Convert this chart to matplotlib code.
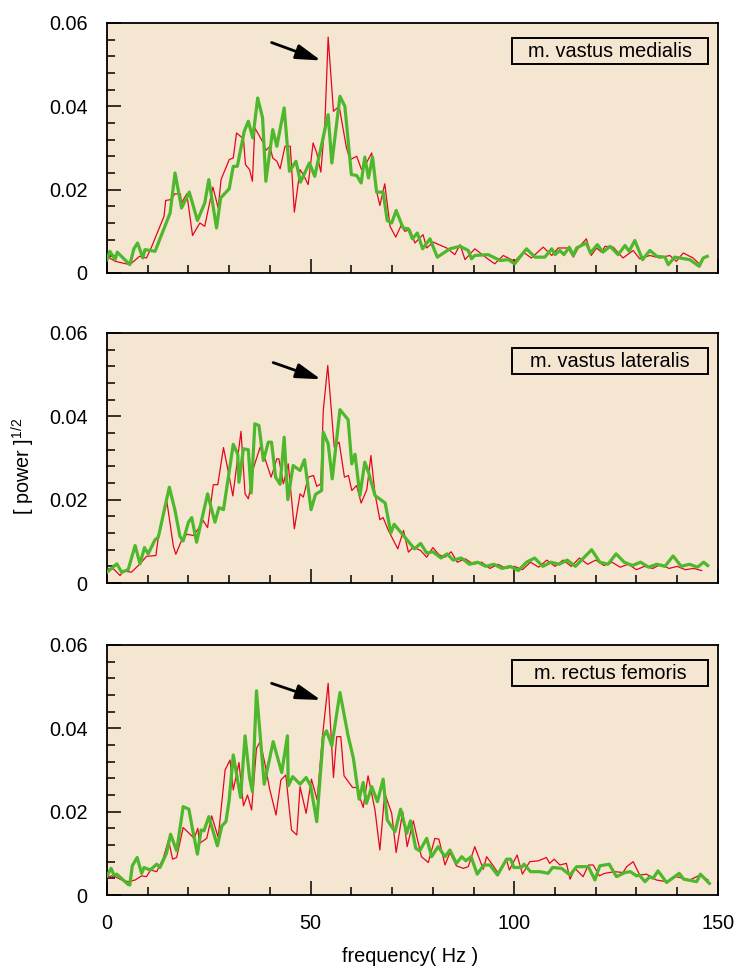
import matplotlib
matplotlib.use('Agg')
import matplotlib.pyplot as plt
from matplotlib.patches import Rectangle
from matplotlib.ticker import MultipleLocator

plt.rcParams['font.family'] = ['Liberation Sans', 'DejaVu Sans']
plt.rcParams['mathtext.default'] = 'regular'

# ---- panel 1: m. vastus medialis ----
vm_red_f = [0, 2, 5.6, 8, 9.7, 11, 14, 14.4, 15.6, 16.7, 18, 18.3, 19.6, 21, 22.8, 24, 26, 27.3, 28, 30,
            31, 31.8, 33.5, 34, 35, 35.7, 36.3, 38.4, 39, 40, 40.7, 41.7, 42.5, 43.7, 45, 46, 47.4, 48.2, 49.4, 50.6,
            51.5, 52.5, 53.5, 54.3, 55.6, 57, 58.8, 59.7, 61.3, 62.5, 63.7, 65, 66.2, 67, 68.2, 69.5, 70.9, 72.3, 73.1, 74.4,
            75.6, 77.6, 78.5, 80.1, 83.4, 85.4, 86.7, 87.9, 90.3, 93.2, 95.2, 97.3, 100.1, 102.2, 104.2, 107.1, 109.2, 110.8, 113.2, 114.5,
            115.7, 117.7, 118.9, 120.2, 121.4, 122.3, 124.3, 126.7, 129.2, 130.8, 133.3, 135.7, 138.2, 139.8, 141.5, 143.9, 145.2]
vm_red_v = [0.004, 0.0028, 0.002, 0.004, 0.0036, 0.0064, 0.0136, 0.0174, 0.0176, 0.019, 0.019, 0.0168, 0.019, 0.009, 0.012, 0.0112, 0.0206, 0.0156, 0.0224, 0.0272,
            0.0276, 0.0336, 0.0322, 0.026, 0.0248, 0.022, 0.0348, 0.0312, 0.0294, 0.0304, 0.0276, 0.0268, 0.025, 0.0304, 0.0304, 0.0146, 0.0248, 0.0236, 0.0212, 0.0312,
            0.0288, 0.0242, 0.036, 0.0566, 0.0388, 0.04, 0.030, 0.0272, 0.028, 0.0248, 0.0264, 0.0288, 0.0196, 0.0162, 0.0214, 0.0112, 0.0086, 0.0116, 0.010, 0.0104,
            0.0072, 0.0092, 0.006, 0.0074, 0.006, 0.0044, 0.0068, 0.0032, 0.0058, 0.0036, 0.0022, 0.0042, 0.0028, 0.005, 0.0036, 0.0062, 0.0042, 0.006, 0.006, 0.0038,
            0.006, 0.0082, 0.0042, 0.006, 0.005, 0.0064, 0.0062, 0.0036, 0.0054, 0.0034, 0.0042, 0.0036, 0.0042, 0.0028, 0.0048, 0.0036, 0.0024]
vm_green_f = [0, 0.7, 2, 2.5, 5.6, 6.6, 7.5, 8.8, 9.3, 11.8, 15.5, 16.7, 18.3, 20.2, 22.2, 24, 25, 26.9, 27.9, 30,
              31, 32, 33.7, 34.7, 35.8, 37, 38.2, 39, 40.7, 41.7, 43.5, 44.8, 46.4, 47.5, 49.7, 51, 54.3, 55.2, 57.2, 58.4,
              60, 61.3, 62.4, 63.3, 64.2, 65.2, 66.2, 67.8, 68.8, 69.9, 71, 72.7, 74, 75, 76.2, 77.5, 79.3, 81.1, 84.2, 86.7,
              88.7, 89.5, 90.3, 93.6, 96.5, 98.5, 100.1, 103, 105.1, 107.5, 109.2, 110, 111.2, 112.2, 113.5, 114.5, 115.3, 117.7, 118.7, 120.4,
              121.8, 123.5, 125.5, 127.2, 128.2, 129.6, 131.5, 133.3, 135, 137, 137.8, 139.4, 143.1, 145.4, 146.4, 147.4]
vm_green_v = [0.0032, 0.0052, 0.0032, 0.005, 0.002, 0.0058, 0.0072, 0.0036, 0.0056, 0.0052, 0.0144, 0.024, 0.0156, 0.0194, 0.0126, 0.0168, 0.0224, 0.0108, 0.018, 0.0202,
              0.0256, 0.0256, 0.034, 0.0364, 0.0324, 0.042, 0.0372, 0.022, 0.0344, 0.0304, 0.0396, 0.0244, 0.0268, 0.0218, 0.0264, 0.0232, 0.038, 0.0264, 0.0424, 0.040,
              0.0236, 0.0234, 0.0216, 0.0278, 0.0228, 0.0278, 0.0194, 0.0194, 0.0126, 0.012, 0.015, 0.0108, 0.0106, 0.0082, 0.0096, 0.0058, 0.0082, 0.0038, 0.0058, 0.0064,
              0.0054, 0.0034, 0.0042, 0.0044, 0.003, 0.0032, 0.0022, 0.0058, 0.0038, 0.0038, 0.0058, 0.0044, 0.0054, 0.0044, 0.0062, 0.0042, 0.006, 0.0072, 0.0048, 0.0068,
              0.005, 0.0064, 0.0044, 0.0066, 0.0052, 0.0078, 0.0032, 0.0054, 0.004, 0.0038, 0.002, 0.0038, 0.0032, 0.0016, 0.0036, 0.004]

# ---- panel 2: m. vastus lateralis ----
vl_red_f = [0, 1.6, 3.2, 4, 6, 8.1, 9.7, 12, 12.6, 14.6, 16.3, 16.9, 18.3, 19.6, 21.2, 22.4, 23.6, 24.7, 26.1, 27.2,
            28.6, 29.8, 30.9, 32.9, 33.9, 34.7, 35.1, 35.9, 37.6, 38.8, 40.3, 41.7, 42.2, 43.3, 44.5, 46, 47.4, 48.2, 49.4, 50.7,
            51.5, 52.5, 53.1, 54.2, 55.8, 57, 58.3, 59.3, 60.1, 61.3, 62.4, 63.8, 64.8, 65.8, 67, 67.8, 69.1, 71.4, 72.8, 74,
            75.2, 77, 78.5, 80, 81.5, 83, 84.5, 86, 88, 90, 92, 94, 96, 98, 100, 102, 104, 106, 108, 110,
            112, 114, 116, 118, 120, 122, 124, 126, 128, 130, 132, 134, 136, 138, 140, 142, 144, 146]
vl_red_v = [0.0034, 0.0034, 0.0018, 0.0029, 0.0026, 0.0046, 0.0064, 0.0066, 0.011, 0.0202, 0.0088, 0.0069, 0.0102, 0.0117, 0.0114, 0.013, 0.015, 0.0133, 0.0236, 0.0236,
            0.0325, 0.0266, 0.0209, 0.0364, 0.0214, 0.0202, 0.0222, 0.0274, 0.0326, 0.0298, 0.0254, 0.0298, 0.0298, 0.0238, 0.0286, 0.013, 0.0214, 0.0206, 0.0254, 0.0258,
            0.0232, 0.0238, 0.0414, 0.0522, 0.0326, 0.0338, 0.0254, 0.0258, 0.0222, 0.0234, 0.0192, 0.0224, 0.0306, 0.0214, 0.0152, 0.0157, 0.0126, 0.0082, 0.0126, 0.0074,
            0.0086, 0.0078, 0.0062, 0.0085, 0.0068, 0.0062, 0.0075, 0.005, 0.0058, 0.0045, 0.005, 0.0035, 0.0045, 0.0035, 0.004, 0.0032, 0.005, 0.0038, 0.0055, 0.004,
            0.0055, 0.004, 0.006, 0.0045, 0.0055, 0.0042, 0.005, 0.0038, 0.0045, 0.0032, 0.004, 0.0035, 0.0045, 0.0035, 0.004, 0.0032, 0.0035, 0.003]
vl_green_f = [0, 2.4, 3.6, 5.2, 6.9, 8.1, 9.2, 10.1, 11.8, 12.6, 15.3, 16.7, 17.9, 18.7, 20, 20.8, 22, 24.7, 26.5, 27.5,
              28.6, 31, 32.1, 32.4, 33.5, 34.7, 35.4, 36.3, 37.3, 38.4, 39.6, 40.4, 41.4, 42.5, 43.5, 44.4, 45.7, 47.4, 48.5, 50.1,
              51.2, 52.7, 53.1, 54.3, 55.3, 57.2, 59.2, 60.1, 60.9, 62.1, 63.3, 64.2, 65.8, 68.3, 69.7, 70.5, 75.5, 77, 78.5, 80,
              82, 83.5, 85, 87, 89, 91, 93, 95, 97, 99, 101, 103, 105, 107, 109, 111, 113, 115, 117, 119,
              121, 123, 125, 127, 129, 131, 133, 135, 137, 139, 141, 143, 145, 146.5, 147.5]
vl_green_v = [0.0026, 0.0046, 0.0026, 0.0032, 0.009, 0.0046, 0.0085, 0.007, 0.0104, 0.011, 0.023, 0.0174, 0.0112, 0.0101, 0.0146, 0.0157, 0.0098, 0.0214, 0.0146, 0.0181,
              0.0176, 0.0333, 0.0309, 0.0242, 0.0322, 0.032, 0.0216, 0.0382, 0.0378, 0.0294, 0.0338, 0.0338, 0.0254, 0.0237, 0.035, 0.02, 0.0282, 0.027, 0.0296, 0.0176,
              0.0213, 0.0222, 0.0362, 0.0334, 0.025, 0.0416, 0.0392, 0.0286, 0.0309, 0.021, 0.029, 0.0266, 0.021, 0.0192, 0.012, 0.0141, 0.0082, 0.0095, 0.0072, 0.0075,
              0.006, 0.007, 0.0055, 0.006, 0.0045, 0.005, 0.004, 0.0045, 0.0035, 0.004, 0.003, 0.005, 0.006, 0.004, 0.005, 0.0045, 0.0055, 0.004, 0.006, 0.008,
              0.005, 0.0045, 0.007, 0.005, 0.0042, 0.005, 0.0038, 0.0045, 0.004, 0.0065, 0.004, 0.0045, 0.0038, 0.005, 0.0042]

# ---- panel 3: m. rectus femoris ----
rf_red_f = [0, 1, 2, 3.6, 5.2, 6.9, 8.5, 9.7, 10.7, 12.2, 13.8, 15.1, 16.1, 17.1, 18.7, 20.8, 21.4, 22.3, 22.7, 24.5,
            25.7, 27.3, 29, 30.2, 31, 32.4, 33.5, 34.5, 35.5, 36.7, 37.6, 38.8, 39.9, 41.5, 42.7, 43.9, 45.3, 46.6, 47.4, 48.9,
            50.2, 51.6, 52.9, 54.3, 55.6, 56.4, 57.4, 58.2, 60.3, 61.3, 62.9, 64.1, 65.8, 67, 68.2, 69.9, 71, 72.6, 73.7, 75.2,
            77.2, 78.9, 80.5, 81.5, 83, 84.2, 85.8, 87.5, 88.7, 90.3, 92.4, 93.2, 94.4, 96.1, 98.1, 98.8, 100.7, 102, 103.8, 105.9,
            107.9, 108.7, 109.8, 111.2, 112.8, 113.7, 114.9, 116.9, 118.2, 119.4, 120.9, 122.2, 124.7, 126.7, 127.6, 129.2, 130.8, 132.5, 134.9, 137.4,
            139.8, 143.1, 145.6, 147.6]
rf_red_v = [0.0042, 0.0046, 0.0044, 0.0036, 0.0032, 0.0036, 0.0046, 0.0044, 0.006, 0.0056, 0.0088, 0.0132, 0.0086, 0.009, 0.0162, 0.0142, 0.0136, 0.016, 0.0124, 0.0136,
            0.019, 0.0138, 0.03, 0.0324, 0.0252, 0.0318, 0.0214, 0.024, 0.0204, 0.0352, 0.0368, 0.0314, 0.0256, 0.0192, 0.0276, 0.0288, 0.0156, 0.0144, 0.026, 0.0196,
            0.0278, 0.0228, 0.038, 0.0508, 0.0282, 0.038, 0.038, 0.0286, 0.0258, 0.0258, 0.021, 0.0286, 0.0204, 0.0108, 0.0244, 0.0196, 0.0102, 0.02, 0.0116, 0.0178,
            0.0092, 0.0078, 0.0136, 0.0134, 0.0072, 0.0102, 0.007, 0.0064, 0.0068, 0.0116, 0.0062, 0.0092, 0.0076, 0.0052, 0.0084, 0.006, 0.0096, 0.005, 0.008, 0.0082,
            0.009, 0.0076, 0.0086, 0.0072, 0.0076, 0.0038, 0.0064, 0.0044, 0.0072, 0.0072, 0.0046, 0.0052, 0.0056, 0.0054, 0.0068, 0.008, 0.0048, 0.005, 0.0036, 0.0032,
            0.0044, 0.0036, 0.0048, 0.0036]
rf_green_f = [0, 1, 1.7, 2.4, 5.1, 5.6, 6.2, 7.4, 8.5, 9.1, 10.6, 12.2, 13, 14.6, 15.6, 17.1, 18.7, 20.1, 21, 22.2,
              23.1, 23.8, 25, 27.1, 28.2, 29.2, 30, 31, 32.8, 33.9, 35, 35.7, 36.7, 38.6, 40.8, 42.9, 44.3, 44.5, 45.6, 47.4,
              48.9, 50, 51.5, 53.1, 53.9, 55.2, 57.2, 59.2, 60.5, 61.9, 62.9, 63.7, 65, 66.4, 67.8, 68.8, 70.7, 72.1, 73.6, 74.5,
              75.8, 76.8, 78.5, 79.7, 81.3, 83, 84.2, 85.8, 87.1, 88.1, 89.4, 90.9, 92.5, 94, 95.9, 98.1, 99.1, 99.9, 101.8, 102.4,
              104, 106.3, 108.3, 109.4, 111.6, 113.7, 115.3, 118.2, 119.8, 121, 123.3, 125.1, 127.2, 128.5, 130, 130.7, 132.1, 133.3, 134.1, 135.3,
              137.4, 140.5, 141.6, 144.8, 145.7, 147.9]
rf_green_v = [0.0046, 0.0064, 0.0048, 0.005, 0.0026, 0.0024, 0.007, 0.009, 0.0052, 0.0066, 0.006, 0.0074, 0.0066, 0.01, 0.0146, 0.0106, 0.0212, 0.0206, 0.0158, 0.0098,
              0.0156, 0.0154, 0.0188, 0.0118, 0.0166, 0.0176, 0.0228, 0.0336, 0.0234, 0.0382, 0.0282, 0.0248, 0.049, 0.0266, 0.0368, 0.0294, 0.0382, 0.0262, 0.0284, 0.0266,
              0.0282, 0.0262, 0.0176, 0.038, 0.0394, 0.0358, 0.0486, 0.0382, 0.0328, 0.023, 0.027, 0.022, 0.026, 0.0224, 0.0278, 0.018, 0.0152, 0.0206, 0.0148, 0.0178,
              0.0112, 0.0106, 0.0136, 0.0092, 0.0116, 0.0092, 0.0108, 0.0076, 0.0092, 0.0082, 0.0092, 0.005, 0.0072, 0.0072, 0.0048, 0.0086, 0.0086, 0.0066, 0.0066, 0.0074,
              0.0056, 0.0056, 0.0052, 0.0066, 0.0064, 0.0048, 0.0068, 0.0068, 0.0036, 0.007, 0.0074, 0.0044, 0.0054, 0.0056, 0.0046, 0.0048, 0.0032, 0.0044, 0.004, 0.0058,
              0.003, 0.0052, 0.0038, 0.0032, 0.005, 0.0028]

titles = ['m. vastus medialis', 'm. vastus lateralis', 'm. rectus femoris']
# arrow tail / tip in data coords for each panel
arrows = [((40.4, 0.0553), (52.5, 0.0510)),
          ((40.8, 0.0529), (52.5, 0.0489)),
          ((40.4, 0.0508), (52.5, 0.0468))]

panels = [(vm_red_f, vm_red_v, vm_green_f, vm_green_v),
          (vl_red_f, vl_red_v, vl_green_f, vl_green_v),
          (rf_red_f, rf_red_v, rf_green_f, rf_green_v)]

RED = '#E3061E'
GREEN = '#4DB82C'
BG = '#F5E6D2'
FS = 14.3

fig = plt.figure(figsize=(7.36, 9.68), dpi=100)
bottoms = [0.718, 0.3977, 0.0754]

for i, (rf, rv, gf, gv) in enumerate(panels):
    ax = fig.add_axes([0.1454, bottoms[i], 0.830, 0.2583])
    ax.set_facecolor(BG)
    n = min(len(rf), len(rv))
    ax.plot(rf[:n], rv[:n], color=RED, lw=0.9, zorder=3)
    n = min(len(gf), len(gv))
    ax.plot(gf[:n], gv[:n], color=GREEN, lw=2.3, zorder=4)

    ax.set_xlim(0, 150)
    ax.set_ylim(0, 0.06)
    ax.xaxis.set_major_locator(MultipleLocator(50))
    ax.xaxis.set_minor_locator(MultipleLocator(10))
    ax.yaxis.set_major_locator(MultipleLocator(0.02))
    ax.yaxis.set_minor_locator(MultipleLocator(0.004))
    ax.yaxis.set_major_formatter(plt.FuncFormatter(lambda v, p: '0' if v == 0 else '%g' % v))
    ax.tick_params(which='both', direction='in', top=False, right=False, width=1.1, labelsize=FS)
    ax.tick_params(which='major', length=10)
    ax.tick_params(which='minor', length=6)
    ax.tick_params(axis='y', pad=14)
    ax.tick_params(axis='x', pad=14)
    for s in ax.spines.values():
        s.set_linewidth(1.3)
    if i < 2:
        ax.set_xticklabels([])

    # label box
    ax.add_patch(Rectangle((0.663, 0.836), 0.321, 0.104, transform=ax.transAxes,
                           facecolor='none', edgecolor='black', lw=1.4, zorder=5))
    ax.text(0.8235, 0.886, titles[i], transform=ax.transAxes, ha='center', va='center',
            fontsize=FS, zorder=6)

    tail, tip = arrows[i]
    ax.annotate('', xy=tip, xytext=tail,
                arrowprops=dict(arrowstyle='-|>,head_length=1.0,head_width=0.3',
                                color='black', lw=2, mutation_scale=15, shrinkA=0, shrinkB=0),
                zorder=6)

fig.text(410 / 736, 1 - 957 / 968, 'frequency( Hz )', ha='center', va='center', fontsize=FS)
fig.text(23 / 736, 1 - 466 / 968, '[ power ]$^{1/2}$', ha='center', va='center',
         rotation=90, fontsize=FS)

fig.savefig('out.png', dpi=100)
